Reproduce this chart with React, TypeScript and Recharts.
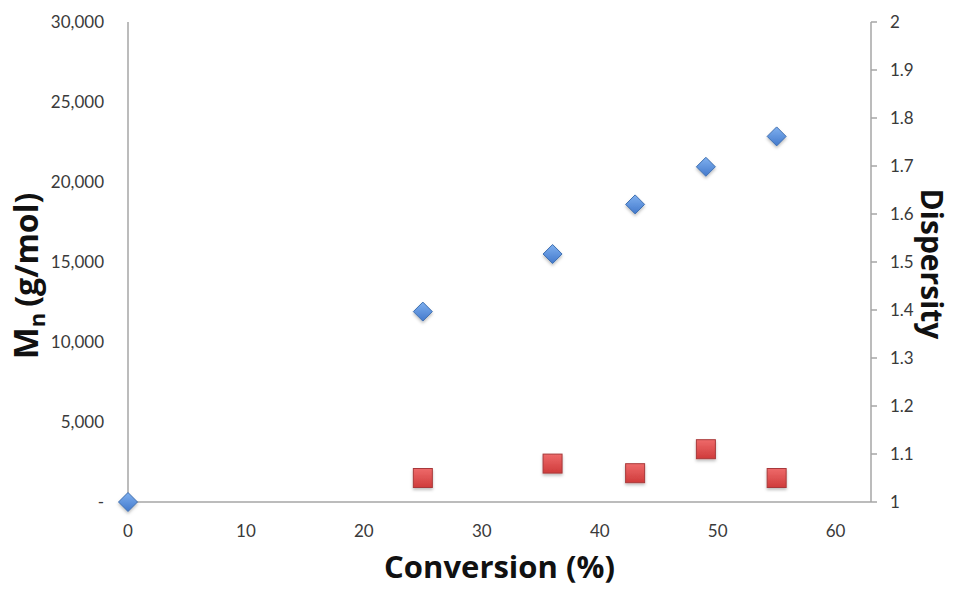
import React from 'react';
import { ScatterChart, Scatter, XAxis, YAxis } from 'recharts';

// Conversion (%) for each sample
const mnConversion = [0, 25, 36, 43, 49, 55];
const mnValues = [0, 11900, 15500, 18600, 20950, 22850];

const dispConversion = [25, 36, 43, 49, 55];
const dispValues = [1.05, 1.08, 1.06, 1.11, 1.05];

const xTicks = [0, 10, 20, 30, 40, 50, 60];
const mnTicks = [0, 5000, 10000, 15000, 20000, 25000, 30000];
const dispTicks = [1, 1.1, 1.2, 1.3, 1.4, 1.5, 1.6, 1.7, 1.8, 1.9, 2];

const mnData = mnConversion.map((x, i) => ({ x, y: mnValues[i] }));
const dispData = dispConversion.map((x, i) => ({ x, y: dispValues[i] }));

const FONT = 'Lato, "Open Sans", sans-serif';
const TITLE_FONT = '"Open Sans", sans-serif';
const AXIS = '#a6a6a6';
const TICK_STYLE = { fill: '#3a3a3a', fontSize: 17, fontFamily: FONT };

const Diamond = (props: any) => {
  const { cx, cy } = props;
  if (cx == null || cy == null) return null;
  const r = 9.5;
  const d = `M${cx},${cy - r} L${cx + r},${cy} L${cx},${cy + r} L${cx - r},${cy} Z`;
  return <path d={d} fill="url(#blueGrad)" stroke="#3f6fb0" strokeWidth={1} filter="url(#shadow)" />;
};

const Square = (props: any) => {
  const { cx, cy } = props;
  if (cx == null || cy == null) return null;
  const s = 9.5;
  return (
    <rect
      x={cx - s}
      y={cy - s}
      width={s * 2}
      height={s * 2}
      fill="url(#redGrad)"
      stroke="#a8393a"
      strokeWidth={1}
      filter="url(#shadow)"
    />
  );
};

const LeftLabel = (props: any) => {
  const { viewBox } = props;
  const x = viewBox.x + 38;
  const y = viewBox.y + viewBox.height / 2 + 14;
  return (
    <text
      x={x}
      y={y}
      transform={`rotate(-90, ${x}, ${y})`}
      textAnchor="middle"
      fontFamily={TITLE_FONT}
      fontWeight="bold"
      fontSize={32}
      fill="#111"
    >
      <tspan fontSize={34}>M</tspan>
      <tspan fontSize={22} dy={7}>n</tspan>
      <tspan dy={-7} dx={6}>(g/mol)</tspan>
    </text>
  );
};

const RightLabel = (props: any) => {
  const { viewBox } = props;
  const x = viewBox.x + 50;
  const y = viewBox.y + viewBox.height / 2 + 2;
  return (
    <text
      x={x}
      y={y}
      transform={`rotate(90, ${x}, ${y})`}
      textAnchor="middle"
      fontFamily={TITLE_FONT}
      fontWeight="bold"
      fontSize={30}
      fill="#111"
    >
      Dispersity
    </text>
  );
};

const BottomLabel = (props: any) => {
  const { viewBox } = props;
  const x = viewBox.x + viewBox.width / 2;
  const y = viewBox.y + 76;
  return (
    <text x={x} y={y} textAnchor="middle" fontFamily={TITLE_FONT} fontWeight="bold" fontSize={31} fill="#111">
      Conversion (%)
    </text>
  );
};

export default function App() {
  return (
    <div style={{ position: 'absolute', left: 0, top: 0, background: '#fff' }}>
      <ScatterChart width={953} height={589} margin={{ top: 22, right: 0, bottom: 0, left: 0 }}>
        <defs>
          <linearGradient id="blueGrad" x1="0" y1="0" x2="0" y2="1">
            <stop offset="0%" stopColor="#7fb0ef" />
            <stop offset="100%" stopColor="#4379cc" />
          </linearGradient>
          <linearGradient id="redGrad" x1="0" y1="0" x2="0" y2="1">
            <stop offset="0%" stopColor="#ee6a6a" />
            <stop offset="100%" stopColor="#cf3b3b" />
          </linearGradient>
          <filter id="shadow" x="-50%" y="-50%" width="200%" height="200%">
            <feDropShadow dx="0" dy="2" stdDeviation="1.5" floodColor="#000" floodOpacity="0.25" />
          </filter>
        </defs>
        <XAxis
          type="number"
          dataKey="x"
          domain={[0, 63]}
          ticks={xTicks}
          height={87}
          axisLine={{ stroke: AXIS, strokeWidth: 1.5 }}
          tickLine={false}
          tickSize={0}
          tickMargin={23}
          tick={TICK_STYLE}
          label={<BottomLabel />}
        />
        <YAxis
          yAxisId="mn"
          type="number"
          dataKey="y"
          domain={[0, 30000]}
          ticks={mnTicks}
          width={128}
          axisLine={{ stroke: AXIS, strokeWidth: 1.5 }}
          tickLine={false}
          tickSize={0}
          tickMargin={24}
          tick={TICK_STYLE}
          tickFormatter={(v: number) => (v === 0 ? '-' : v.toLocaleString('en-US'))}
          label={<LeftLabel />}
        />
        <YAxis
          yAxisId="d"
          orientation="right"
          type="number"
          dataKey="y"
          domain={[1, 2]}
          ticks={dispTicks}
          width={82}
          axisLine={{ stroke: AXIS, strokeWidth: 1.5 }}
          tickLine={{ stroke: AXIS, strokeWidth: 1.5 }}
          tickSize={6}
          tickMargin={13}
          tick={TICK_STYLE}
          tickFormatter={(v: number) => String(Number(v.toFixed(1)))}
          label={<RightLabel />}
        />
        <Scatter yAxisId="d" data={dispData} shape={<Square />} isAnimationActive={false} />
        <Scatter yAxisId="mn" data={mnData} shape={<Diamond />} isAnimationActive={false} />
      </ScatterChart>
    </div>
  );
}
